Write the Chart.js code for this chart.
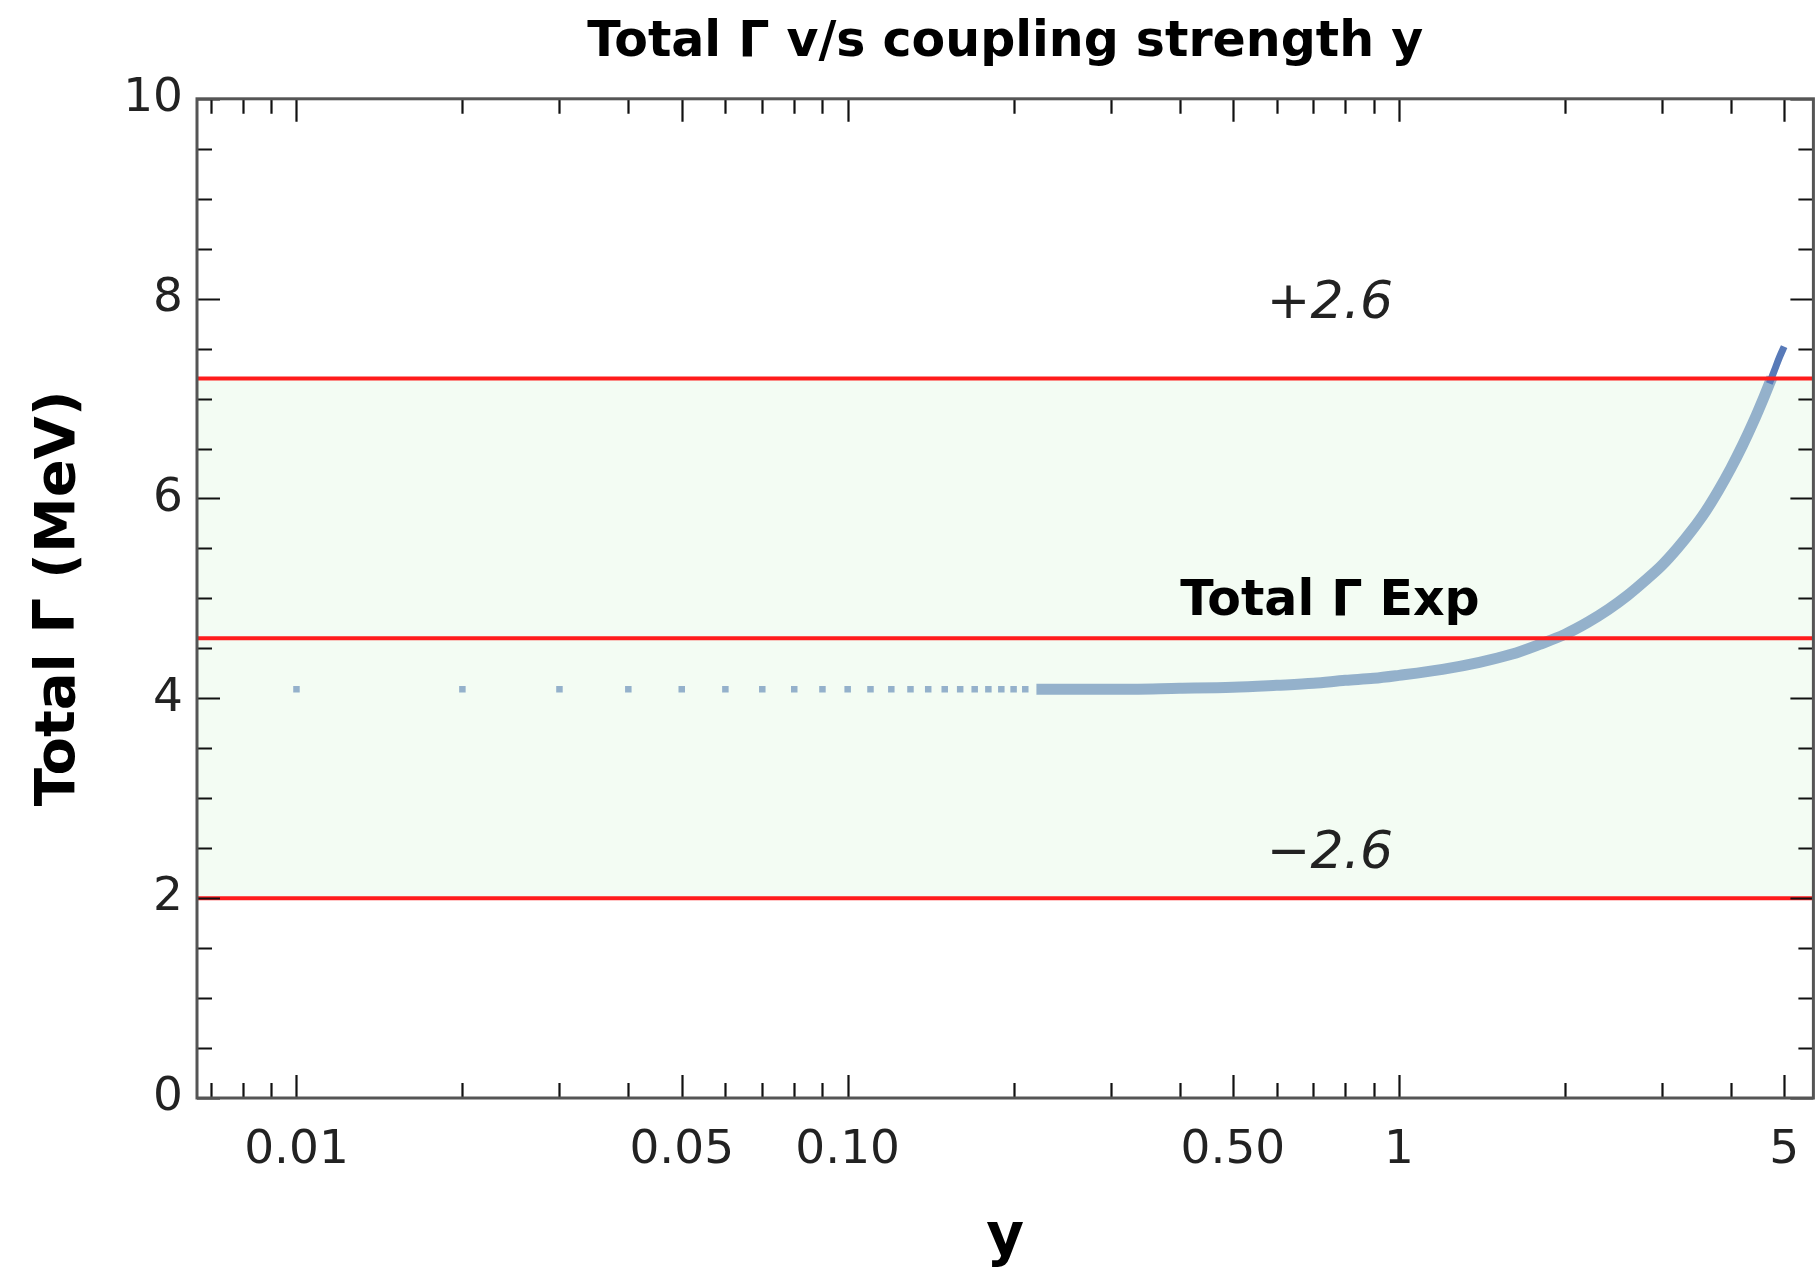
<!DOCTYPE html>
<html>
<head>
<meta charset="utf-8">
<title>Total Γ v/s coupling strength y</title>
<script src="https://cdn.jsdelivr.net/npm/chart.js@4.4.1/dist/chart.umd.min.js"></script>
<style>
  html, body { margin: 0; padding: 0; background: #fff; }
  #wrap { width: 1818px; height: 1275px; }
</style>
</head>
<body>
<div id="wrap"><canvas id="chart-gamma"></canvas></div>
<script>
// Total width vs coupling y: isolated points at small y, dense curve above ~0.2
const dotCoupling = [0.01, 0.02, 0.03, 0.04, 0.05, 0.06, 0.07, 0.08, 0.09, 0.10, 0.11,
  0.12, 0.13, 0.14, 0.15, 0.16, 0.17, 0.18, 0.19, 0.20, 0.21];
const dotGamma = [4.09, 4.09, 4.09, 4.09, 4.09, 4.09, 4.09, 4.09, 4.09, 4.09, 4.09,
  4.09, 4.09, 4.09, 4.09, 4.09, 4.09, 4.09, 4.09, 4.09, 4.09];

const curveCoupling = [0.22, 0.3, 0.4, 0.5, 0.6, 0.7, 0.8, 0.9, 1.0, 1.2, 1.4, 1.6, 1.8, 2.0,
  2.2, 2.4, 2.6, 2.8, 3.0, 3.2, 3.4, 3.6, 3.8, 4.0, 4.2, 4.4, 4.6, 4.75];
const curveGamma = [4.09, 4.09, 4.10, 4.11, 4.13, 4.15, 4.18, 4.20, 4.23, 4.29, 4.36, 4.44, 4.54, 4.64,
  4.76, 4.89, 5.03, 5.18, 5.33, 5.50, 5.68, 5.87, 6.08, 6.30, 6.53, 6.77, 7.02, 7.21];

// last few points, drawn darker
const tipCoupling = [4.7, 4.8, 4.9, 5.0];
const tipGamma = [7.15, 7.28, 7.41, 7.52];

// experimental total width and its error band (MeV)
const expGamma = 4.6;
const expError = 2.6;

const xRange = [0.0066, 5.65];
const yRange = [0, 10];
const xMajorTicks = [0.01, 0.05, 0.1, 0.5, 1, 5];
const xTickLabels = ['0.01', '0.05', '0.10', '0.50', '1', '5'];
const xMinorTicks = [0.007, 0.008, 0.009, 0.02, 0.03, 0.04, 0.06, 0.07, 0.08, 0.09,
  0.2, 0.3, 0.4, 0.6, 0.7, 0.8, 0.9, 2, 3, 4];
const yMajorTicks = [0, 2, 4, 6, 8, 10];
const yMinorTicks = [0.5, 1, 1.5, 2.5, 3, 3.5, 4.5, 5, 5.5, 6.5, 7, 7.5, 8.5, 9, 9.5];

const COLORS = {
  red: 'rgb(255,28,28)',
  band: 'rgb(243,252,243)',
  curve: 'rgb(148,177,203)',
  tip: 'rgb(88,122,184)',
  frame: '#555',
  tick: '#111',
  text: '#222'
};
const FONT = 'DejaVu Sans';

const pts = (xs, ys) => xs.map((x, i) => ({ x, y: ys[i] }));
const hline = v => [{ x: xRange[0], y: v }, { x: xRange[1], y: v }];

// frame with inward ticks on all four sides
const frameTicks = {
  id: 'frameTicks',
  afterDatasetsDraw(chart) {
    const { ctx, chartArea: a, scales: { x, y } } = chart;
    ctx.save();
    ctx.strokeStyle = COLORS.tick;
    ctx.lineWidth = 2.2;
    ctx.beginPath();
    const xt = (vals, len) => vals.forEach(v => {
      const px = Math.round(x.getPixelForValue(v)) + 0.5;
      ctx.moveTo(px, a.bottom); ctx.lineTo(px, a.bottom - len);
      ctx.moveTo(px, a.top); ctx.lineTo(px, a.top + len);
    });
    const yt = (vals, len) => vals.forEach(v => {
      const py = Math.round(y.getPixelForValue(v)) + 0.5;
      ctx.moveTo(a.left, py); ctx.lineTo(a.left + len, py);
      ctx.moveTo(a.right, py); ctx.lineTo(a.right - len, py);
    });
    xt(xMajorTicks, 23); xt(xMinorTicks, 15);
    yt(yMajorTicks, 23); yt(yMinorTicks, 15);
    ctx.stroke();
    ctx.strokeStyle = COLORS.frame;
    ctx.lineWidth = 3;
    ctx.strokeRect(a.left, a.top, a.right - a.left, a.bottom - a.top);
    ctx.restore();
  }
};

// band annotations
const bandText = {
  id: 'bandText',
  afterDatasetsDraw(chart) {
    const { ctx, scales: { x, y } } = chart;
    const put = (text, font, color, xv, yv) => {
      ctx.font = font;
      ctx.fillStyle = color;
      ctx.textAlign = 'center';
      ctx.textBaseline = 'alphabetic';
      const size = parseFloat(font.match(/(\d+)px/)[1]);
      ctx.fillText(text, x.getPixelForValue(xv), y.getPixelForValue(yv) + size * 0.365);
    };
    ctx.save();
    put('+' + expError, `italic 52px "${FONT}"`, COLORS.text, 0.75, 8.0);
    put('Total Γ Exp', `bold 49px "${FONT}"`, '#000', 0.75, 5.01);
    put('\u2212' + expError, `italic 52px "${FONT}"`, COLORS.text, 0.75, 2.49);
    ctx.restore();
  }
};

const redLine = (label, v, extra) => Object.assign({
  label,
  data: hline(v),
  showLine: true,
  borderColor: COLORS.red,
  borderWidth: 4,
  pointRadius: 0,
  fill: false
}, extra || {});

new Chart(document.getElementById('chart-gamma'), {
  type: 'scatter',
  data: {
    datasets: [
      redLine('Exp', expGamma),
      redLine('Exp + err', expGamma + expError, { fill: 2, backgroundColor: COLORS.band }),
      redLine('Exp - err', expGamma - expError),
      {
        label: 'tip',
        data: pts(tipCoupling, tipGamma),
        showLine: true,
        borderColor: COLORS.tip,
        borderWidth: 7,
        pointRadius: 0,
        cubicInterpolationMode: 'monotone'
      },
      {
        label: 'Total Γ',
        data: pts(curveCoupling, curveGamma),
        showLine: true,
        borderColor: COLORS.curve,
        borderWidth: 11,
        pointRadius: 0,
        cubicInterpolationMode: 'monotone'
      },
      {
        label: 'Total Γ points',
        data: pts(dotCoupling, dotGamma),
        pointStyle: 'rect',
        pointRadius: 4.6,
        pointBackgroundColor: COLORS.curve,
        pointBorderWidth: 0
      }
    ]
  },
  options: {
    responsive: true,
    maintainAspectRatio: false,
    animation: false,
    layout: { padding: { left: 0, right: 3, top: 0, bottom: 0 } },
    plugins: {
      legend: { display: false },
      tooltip: { enabled: false },
      filler: { drawTime: 'beforeDatasetsDraw' },
      title: {
        display: true,
        fullSize: false,
        text: 'Total Γ v/s coupling strength y',
        color: '#000',
        font: { family: FONT, size: 49, weight: 'bold' },
        padding: { top: 14, bottom: 26 }
      }
    },
    scales: {
      x: {
        type: 'logarithmic',
        min: xRange[0],
        max: xRange[1],
        grid: { display: false },
        border: { display: false },
        afterBuildTicks: s => { s.ticks = xMajorTicks.map(value => ({ value })); },
        afterFit: s => { s.height = 177; },
        ticks: {
          autoSkip: false,
          maxRotation: 0,
          padding: 17,
          color: COLORS.text,
          font: { family: FONT, size: 47 },
          callback: (v, i) => xTickLabels[i]
        },
        title: {
          display: true,
          text: 'y',
          color: '#000',
          font: { family: FONT, size: 58, weight: 'bold' },
          padding: { top: 0, bottom: 0 }
        }
      },
      y: {
        min: yRange[0],
        max: yRange[1],
        grid: { display: false },
        border: { display: false },
        afterBuildTicks: s => { s.ticks = yMajorTicks.map(value => ({ value })); },
        afterFit: s => { s.width = 197; },
        ticks: {
          padding: 6,
          color: COLORS.text,
          font: { family: FONT, size: 47 }
        },
        title: {
          display: true,
          text: 'Total Γ (MeV)',
          color: '#000',
          font: { family: FONT, size: 56, weight: 'bold' },
          padding: { top: 26, bottom: 0 }
        }
      }
    }
  },
  plugins: [frameTicks, bandText]
});
</script>
</body>
</html>
